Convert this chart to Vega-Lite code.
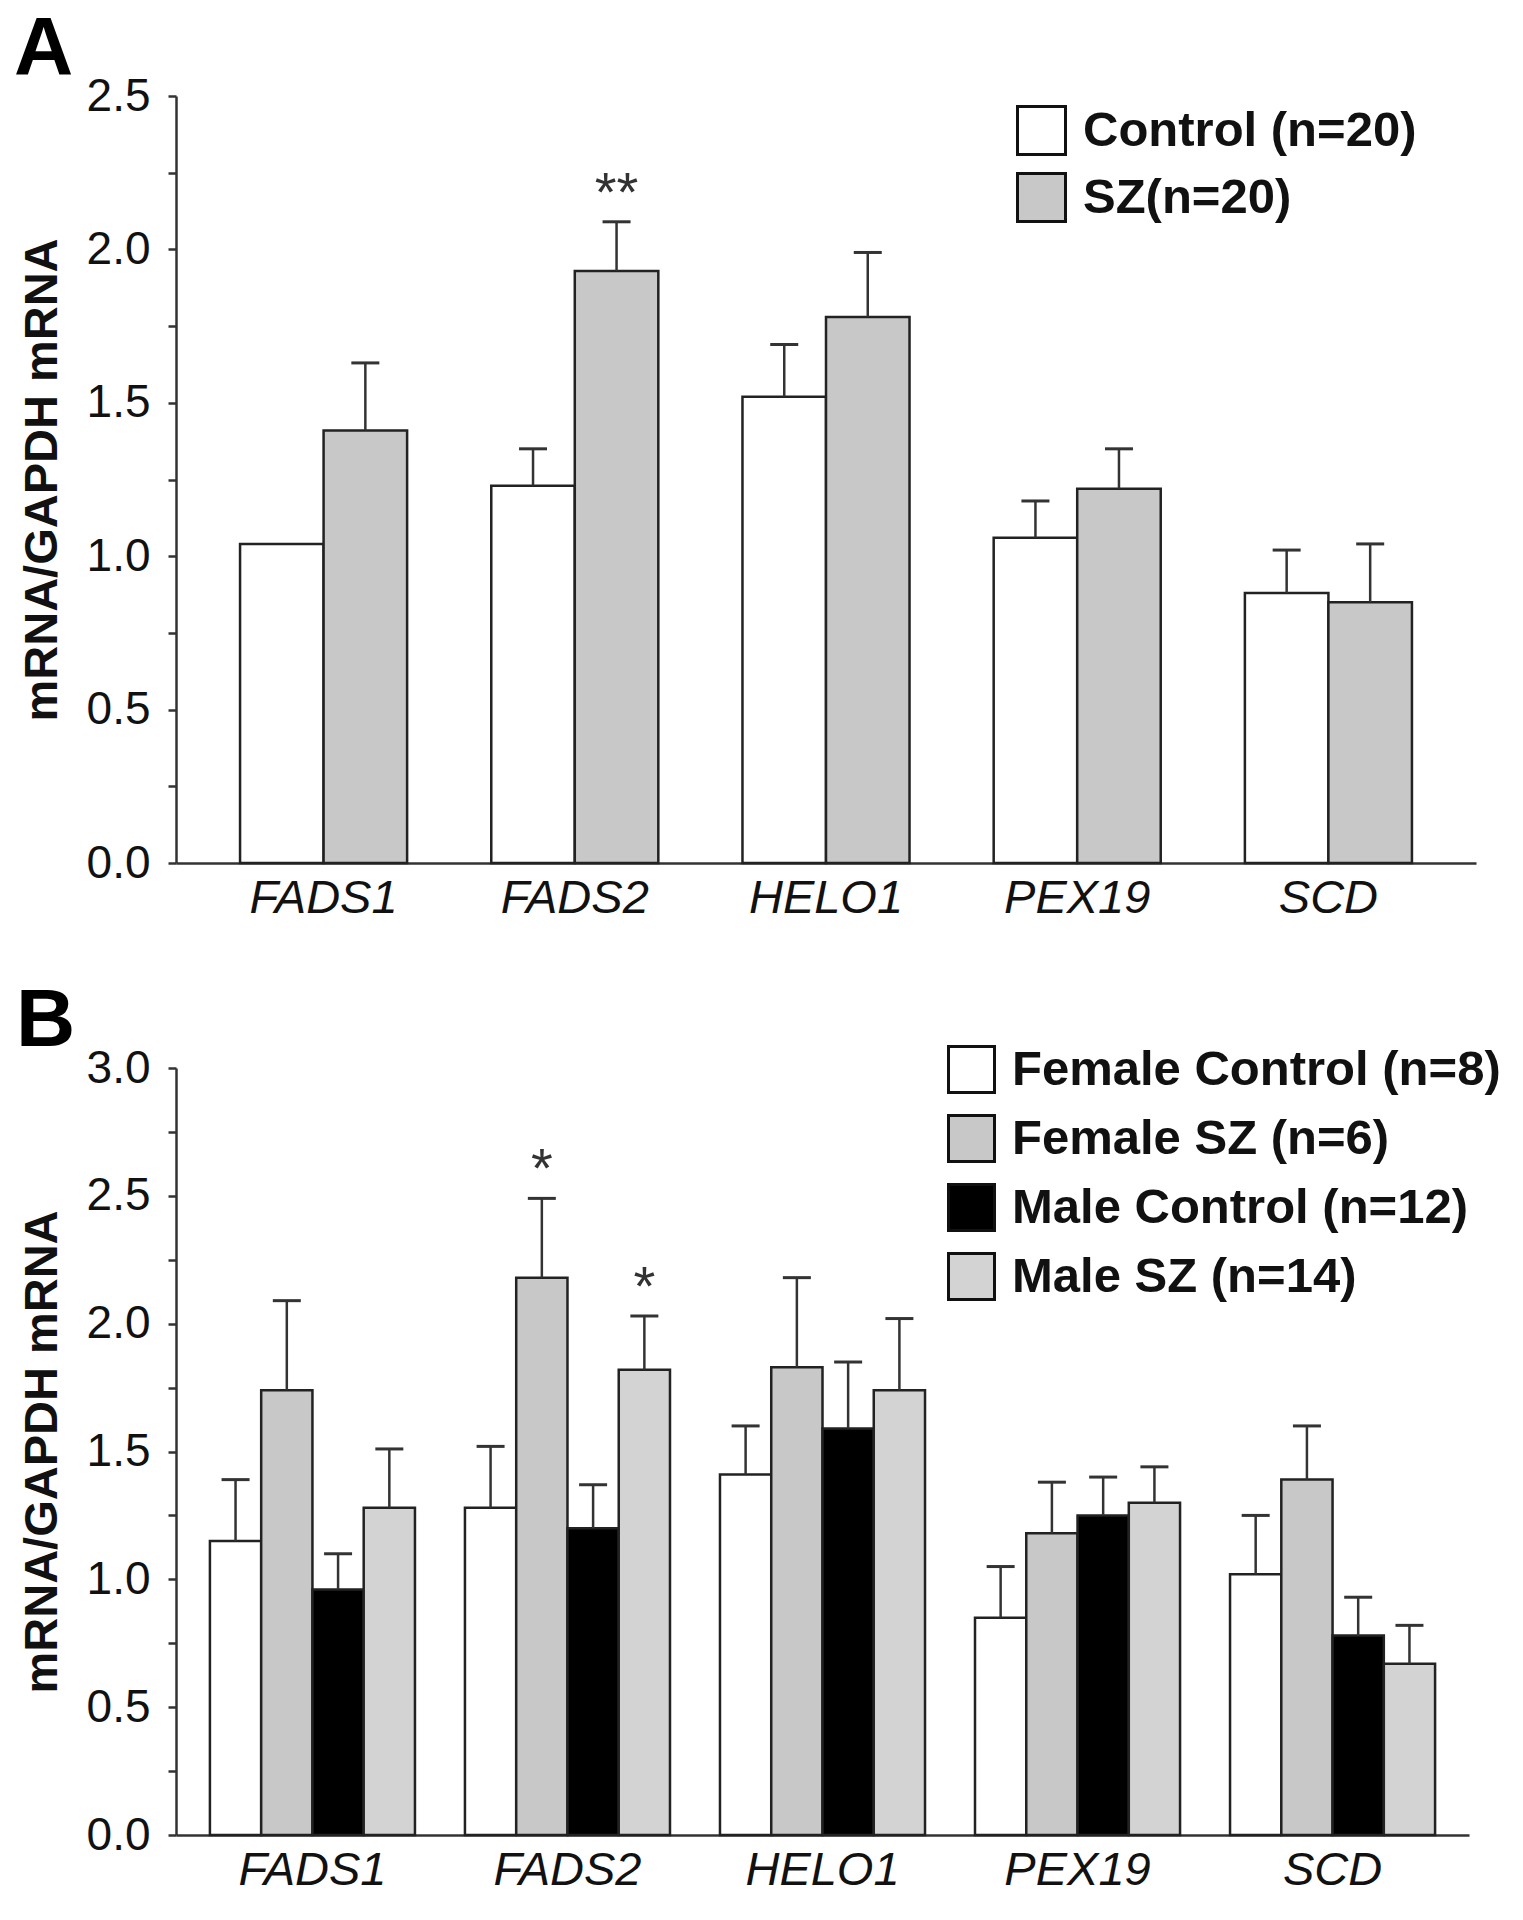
{
  "$schema": "https://vega.github.io/schema/vega-lite/v6.json",
  "background": "white",
  "padding": {"left": 14, "top": 8, "right": 5, "bottom": 5},
  "bounds": "flush",
  "spacing": 205,
  "resolve": {"scale": {"x": "independent", "xOffset": "independent", "fill": "independent", "y": "independent"}, "legend": {"fill": "independent"}},
  "config": {
    "font": "Liberation Sans",
    "view": {"stroke": null},
    "axis": {"domainColor": "#333333", "domainWidth": 2.5, "tickColor": "#333333", "tickWidth": 2.5, "labelColor": "#111111", "titleColor": "#111111", "grid": false, "labelFont": "Liberation Sans", "titleFont": "Liberation Sans"},
    "legend": {"padding": 0, "labelFont": "Liberation Sans", "labelLimit": 900, "labelColor": "#111111", "labelFontWeight": "bold", "symbolType": "square", "symbolStrokeColor": "#111111", "symbolStrokeWidth": 3, "symbolOpacity": 1},
    "title": {"font": "Liberation Sans", "color": "#000000"}
  },
  "datasets": {
    "panelA": [
      {"gene": "FADS1", "group": "Control (n=20)", "mean": 1.04, "err": null, "sig": ""},
      {"gene": "FADS1", "group": "SZ(n=20)", "mean": 1.41, "err": 1.63, "sig": ""},
      {"gene": "FADS2", "group": "Control (n=20)", "mean": 1.23, "err": 1.35, "sig": ""},
      {"gene": "FADS2", "group": "SZ(n=20)", "mean": 1.93, "err": 2.09, "sig": "**"},
      {"gene": "HELO1", "group": "Control (n=20)", "mean": 1.52, "err": 1.69, "sig": ""},
      {"gene": "HELO1", "group": "SZ(n=20)", "mean": 1.78, "err": 1.99, "sig": ""},
      {"gene": "PEX19", "group": "Control (n=20)", "mean": 1.06, "err": 1.18, "sig": ""},
      {"gene": "PEX19", "group": "SZ(n=20)", "mean": 1.22, "err": 1.35, "sig": ""},
      {"gene": "SCD", "group": "Control (n=20)", "mean": 0.88, "err": 1.02, "sig": ""},
      {"gene": "SCD", "group": "SZ(n=20)", "mean": 0.85, "err": 1.04, "sig": ""}
    ],
    "panelB": [
      {"gene": "FADS1", "group": "Female Control (n=8)", "mean": 1.15, "err": 1.39, "sig": ""},
      {"gene": "FADS1", "group": "Female SZ (n=6)", "mean": 1.74, "err": 2.09, "sig": ""},
      {"gene": "FADS1", "group": "Male Control (n=12)", "mean": 0.96, "err": 1.10, "sig": ""},
      {"gene": "FADS1", "group": "Male SZ (n=14)", "mean": 1.28, "err": 1.51, "sig": ""},
      {"gene": "FADS2", "group": "Female Control (n=8)", "mean": 1.28, "err": 1.52, "sig": ""},
      {"gene": "FADS2", "group": "Female SZ (n=6)", "mean": 2.18, "err": 2.49, "sig": "*"},
      {"gene": "FADS2", "group": "Male Control (n=12)", "mean": 1.20, "err": 1.37, "sig": ""},
      {"gene": "FADS2", "group": "Male SZ (n=14)", "mean": 1.82, "err": 2.03, "sig": "*"},
      {"gene": "HELO1", "group": "Female Control (n=8)", "mean": 1.41, "err": 1.60, "sig": ""},
      {"gene": "HELO1", "group": "Female SZ (n=6)", "mean": 1.83, "err": 2.18, "sig": ""},
      {"gene": "HELO1", "group": "Male Control (n=12)", "mean": 1.59, "err": 1.85, "sig": ""},
      {"gene": "HELO1", "group": "Male SZ (n=14)", "mean": 1.74, "err": 2.02, "sig": ""},
      {"gene": "PEX19", "group": "Female Control (n=8)", "mean": 0.85, "err": 1.05, "sig": ""},
      {"gene": "PEX19", "group": "Female SZ (n=6)", "mean": 1.18, "err": 1.38, "sig": ""},
      {"gene": "PEX19", "group": "Male Control (n=12)", "mean": 1.25, "err": 1.40, "sig": ""},
      {"gene": "PEX19", "group": "Male SZ (n=14)", "mean": 1.30, "err": 1.44, "sig": ""},
      {"gene": "SCD", "group": "Female Control (n=8)", "mean": 1.02, "err": 1.25, "sig": ""},
      {"gene": "SCD", "group": "Female SZ (n=6)", "mean": 1.39, "err": 1.60, "sig": ""},
      {"gene": "SCD", "group": "Male Control (n=12)", "mean": 0.78, "err": 0.93, "sig": ""},
      {"gene": "SCD", "group": "Male SZ (n=14)", "mean": 0.67, "err": 0.82, "sig": ""}
    ]
  },
  "vconcat": [
    {
      "title": {"text": "A", "anchor": "start", "frame": "group", "fontSize": 82, "fontWeight": "bold", "baseline": "alphabetic", "dx": -162, "dy": 88, "offset": 5},
      "width": 1300,
      "height": 767,
      "data": {"name": "panelA"},
      "encoding": {
        "x": {"field": "gene", "type": "nominal", "sort": ["FADS1", "FADS2", "HELO1", "PEX19", "SCD"], "scale": {"paddingInner": 0.335, "paddingOuter": 0.255}, "axis": {"title": null, "labelAngle": 0, "labelFontSize": 47, "labelFontStyle": "italic", "labelPadding": 12, "ticks": false, "tickSize": 0}},
        "xOffset": {"field": "group", "type": "nominal", "scale": {"domain": ["Control (n=20)", "SZ(n=20)"], "paddingInner": 0, "paddingOuter": 0}}
      },
      "layer": [
        {
          "mark": {"type": "bar", "stroke": "#222222", "strokeWidth": 2.5},
          "encoding": {
            "y": {"field": "mean", "type": "quantitative", "scale": {"domain": [0, 2.5], "nice": false}, "axis": {"values": [0, 0.25, 0.5, 0.75, 1, 1.25, 1.5, 1.75, 2, 2.25, 2.5], "labelExpr": "datum.value % 0.5 == 0 ? format(datum.value, '.1f') : ''", "labelFontSize": 46, "labelPadding": 18, "tickSize": 8, "labelOverlap": false, "labelFlush": false, "title": "mRNA/GAPDH mRNA", "titleFontSize": 47, "titleFontWeight": "bold", "titlePadding": 20}},
            "fill": {"field": "group", "type": "nominal", "scale": {"domain": ["Control (n=20)", "SZ(n=20)"], "range": ["#ffffff", "#c8c8c8"]}, "legend": {"orient": "none", "legendX": 840, "legendY": 9, "title": null, "symbolSize": 2304, "labelFontSize": 49, "labelOffset": 16, "rowPadding": 6}}
          }
        },
        {
          "transform": [{"filter": "isValid(datum.err)"}],
          "mark": {"type": "rule", "color": "#333333", "strokeWidth": 2.5},
          "encoding": {"y": {"field": "mean", "type": "quantitative"}, "y2": {"field": "err"}}
        },
        {
          "transform": [{"filter": "isValid(datum.err)"}],
          "mark": {"type": "tick", "orient": "horizontal", "size": 28, "thickness": 3, "color": "#333333", "opacity": 1},
          "encoding": {"y": {"field": "err", "type": "quantitative"}}
        },
        {
          "transform": [{"filter": "datum.sig != ''"}],
          "mark": {"type": "text", "fontSize": 56, "baseline": "alphabetic", "dy": -11, "color": "#333333"},
          "encoding": {"y": {"field": "err", "type": "quantitative"}, "text": {"field": "sig"}}
        }
      ]
    },
    {
      "title": {"text": "B", "anchor": "start", "frame": "group", "fontSize": 82, "fontWeight": "bold", "baseline": "alphabetic", "dx": -160, "dy": 88, "offset": 5},
      "width": 1293,
      "height": 767,
      "data": {"name": "panelB"},
      "encoding": {
        "x": {"field": "gene", "type": "nominal", "sort": ["FADS1", "FADS2", "HELO1", "PEX19", "SCD"], "scale": {"paddingInner": 0.196, "paddingOuter": 0.133}, "axis": {"title": null, "labelAngle": 0, "labelFontSize": 47, "labelFontStyle": "italic", "labelPadding": 12, "ticks": false, "tickSize": 0}},
        "xOffset": {"field": "group", "type": "nominal", "scale": {"domain": ["Female Control (n=8)", "Female SZ (n=6)", "Male Control (n=12)", "Male SZ (n=14)"], "paddingInner": 0, "paddingOuter": 0}}
      },
      "layer": [
        {
          "mark": {"type": "bar", "stroke": "#222222", "strokeWidth": 2.5},
          "encoding": {
            "y": {"field": "mean", "type": "quantitative", "scale": {"domain": [0, 3], "nice": false}, "axis": {"values": [0, 0.25, 0.5, 0.75, 1, 1.25, 1.5, 1.75, 2, 2.25, 2.5, 2.75, 3], "labelExpr": "datum.value % 0.5 == 0 ? format(datum.value, '.1f') : ''", "labelFontSize": 46, "labelPadding": 18, "tickSize": 8, "labelOverlap": false, "labelFlush": false, "title": "mRNA/GAPDH mRNA", "titleFontSize": 47, "titleFontWeight": "bold", "titlePadding": 20}},
            "fill": {"field": "group", "type": "nominal", "scale": {"domain": ["Female Control (n=8)", "Female SZ (n=6)", "Male Control (n=12)", "Male SZ (n=14)"], "range": ["#ffffff", "#c8c8c8", "#000000", "#d3d3d3"]}, "legend": {"orient": "none", "legendX": 771, "legendY": -23, "title": null, "symbolSize": 2116, "labelFontSize": 49, "labelOffset": 16, "rowPadding": 10}}
          }
        },
        {
          "transform": [{"filter": "isValid(datum.err)"}],
          "mark": {"type": "rule", "color": "#333333", "strokeWidth": 2.5},
          "encoding": {"y": {"field": "mean", "type": "quantitative"}, "y2": {"field": "err"}}
        },
        {
          "transform": [{"filter": "isValid(datum.err)"}],
          "mark": {"type": "tick", "orient": "horizontal", "size": 28, "thickness": 3, "color": "#333333", "opacity": 1},
          "encoding": {"y": {"field": "err", "type": "quantitative"}}
        },
        {
          "transform": [{"filter": "datum.sig != ''"}],
          "mark": {"type": "text", "fontSize": 56, "baseline": "alphabetic", "dy": -11, "color": "#333333"},
          "encoding": {"y": {"field": "err", "type": "quantitative"}, "text": {"field": "sig"}}
        }
      ]
    }
  ]
}
